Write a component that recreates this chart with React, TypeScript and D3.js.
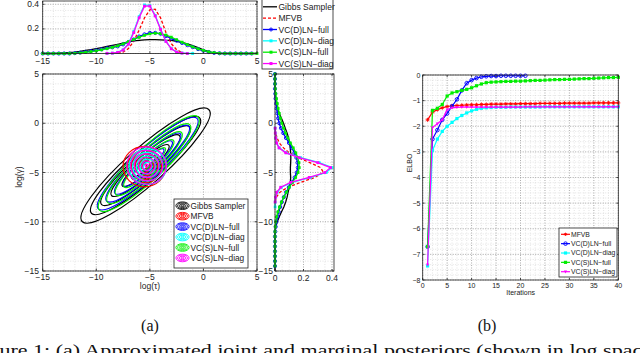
import * as d3 from "d3";

const N = null;

// sample points of the marginal densities (log scale)
const logGrid = d3.range(-15, 5.001, 0.5);

// marginal of log(tau), one value per logGrid point
const tauGibbs = [0, 0, 0, 0.002, 0.005, 0.008, 0.012, 0.018, 0.025, 0.032, 0.04, 0.048, 0.057, 0.066, 0.075, 0.085, 0.094, 0.102, 0.107, 0.11, 0.112, 0.112, 0.111, 0.108, 0.106, 0.099, 0.09, 0.079, 0.065, 0.048, 0.03, 0.015, 0.004, 0, 0, 0, 0, 0, 0, 0, 0];
const tauMfvb = [N, N, N, N, N, N, N, N, N, N, N, N, N, N, 0.002, 0.012, 0.04, 0.1, 0.19, 0.29, 0.355, 0.36, 0.29, 0.17, 0.08, 0.03, 0.008, N, N, N, N, N, N, N, N, N, N, N, N, N, N];
const tauDFull = [0, 0, 0, 0, 0, 0, 0.003, 0.008, 0.013, 0.019, 0.026, 0.034, 0.043, 0.05, 0.058, 0.074, 0.092, 0.114, 0.138, 0.156, 0.168, 0.168, 0.16, 0.142, 0.122, 0.104, 0.086, 0.068, 0.052, 0.036, 0.022, 0.012, 0.005, 0.002, 0, 0, 0, 0, 0, 0, N];
const tauDDiag = [N, N, N, N, N, N, N, N, N, N, N, N, 0.001, 0.003, 0.01, 0.03, 0.08, 0.18, 0.3, 0.395, 0.39, 0.31, 0.2, 0.1, 0.04, 0.012, 0.004, 0.001, 0, N, N, N, N, N, N, N, N, N, N, N, N];
const tauSFull = [0, 0, 0, 0, 0, 0, 0.002, 0.005, 0.01, 0.016, 0.022, 0.03, 0.04, 0.05, 0.062, 0.078, 0.096, 0.114, 0.132, 0.148, 0.16, 0.165, 0.162, 0.15, 0.133, 0.112, 0.092, 0.072, 0.054, 0.038, 0.025, 0.014, 0.007, 0.002, 0, 0, 0, 0, 0, 0, 0];
const tauSDiag = [N, N, N, N, N, N, N, N, N, N, N, N, 0.001, 0.003, 0.009, 0.028, 0.075, 0.17, 0.29, 0.385, 0.385, 0.305, 0.195, 0.098, 0.038, 0.011, 0.003, 0, N, N, N, N, N, N, N, N, N, N, N, N, N];

// marginal of log(gamma)
const gamGibbs = [0, 0, 0, 0, 0, 0, 0, 0, 0, 0.006, 0.016, 0.03, 0.045, 0.062, 0.075, 0.085, 0.092, 0.1, 0.108, 0.11, 0.108, 0.108, 0.11, 0.111, 0.11, 0.107, 0.102, 0.095, 0.085, 0.072, 0.06, 0.045, 0.03, 0.018, 0.008, 0.002, 0, 0, 0, 0, 0];
const gamMfvb = [N, N, N, N, N, N, N, N, N, N, N, N, N, N, 0.002, 0.01, 0.035, 0.09, 0.18, 0.28, 0.34, 0.32, 0.245, 0.165, 0.1, 0.06, 0.03, 0.015, 0.005, 0.001, N, N, N, N, N, N, N, N, N, N, N];
const gamDFull = [N, 0, 0, 0, 0, 0, 0, 0, 0.002, 0.005, 0.01, 0.017, 0.026, 0.036, 0.048, 0.062, 0.078, 0.097, 0.118, 0.138, 0.152, 0.16, 0.158, 0.15, 0.136, 0.118, 0.098, 0.077, 0.058, 0.042, 0.03, 0.022, 0.017, 0.012, 0.008, 0.004, 0.002, 0, 0, 0, 0];
const gamDDiag = [N, N, N, N, N, N, N, N, N, N, N, N, N, 0.001, 0.002, 0.005, 0.015, 0.045, 0.12, 0.25, 0.36, 0.4, 0.31, 0.18, 0.08, 0.03, 0.012, 0.006, 0.003, 0.001, N, N, N, N, N, N, N, N, N, N, N];
const gamSFull = [N, 0, 0, 0, 0, 0, 0, 0, 0, 0.002, 0.005, 0.011, 0.02, 0.032, 0.046, 0.062, 0.08, 0.1, 0.122, 0.145, 0.162, 0.17, 0.168, 0.16, 0.146, 0.128, 0.108, 0.09, 0.074, 0.06, 0.048, 0.038, 0.03, 0.022, 0.016, 0.01, 0.005, 0.002, 0, 0, 0];
const gamSDiag = [N, N, N, N, N, N, N, N, N, N, N, N, N, N, 0.001, 0.004, 0.012, 0.04, 0.11, 0.24, 0.35, 0.39, 0.3, 0.17, 0.075, 0.028, 0.011, 0.005, 0.002, 0.001, N, N, N, N, N, N, N, N, N, N, N];

// joint posterior contours: centre, tilt (deg) and ring semi-axes, in log units
const gibbsCenter = [-5.4, -4.3];
const gibbsAngle = 44;
const gibbsRings = [[8.2, 1.8], [7.0, 1.5], [5.7, 1.2], [4.4, 0.95], [3.0, 0.65], [1.6, 0.35]];
const dFullCenter = [-5.2, -4.1];
const dFullAngle = 45;
const dFullRings = [[6.5, 1.4], [5.4, 1.15], [4.3, 0.9], [3.2, 0.68], [2.1, 0.46], [1.0, 0.22]];
const sFullCenter = [-5.1, -4.1];
const sFullAngle = 46;
const sFullRings = [[6.6, 1.5], [5.5, 1.24], [4.4, 0.98], [3.3, 0.74], [2.2, 0.5], [1.1, 0.25]];
const mfvbCenter = [-5.5, -4.4];
const mfvbRings = [[2.0, 2.05], [1.6, 1.65], [1.25, 1.3], [0.9, 0.95], [0.55, 0.6], [0.22, 0.25]];
const dDiagCenter = [-5.2, -4.4];
const dDiagRings = [[1.75, 1.8], [1.4, 1.45], [1.05, 1.1], [0.72, 0.75], [0.4, 0.42]];
const sDiagCenter = [-5.3, -4.3];
const sDiagRings = [[1.85, 1.9], [1.5, 1.55], [1.15, 1.2], [0.8, 0.85], [0.45, 0.48], [0.15, 0.15]];

// ELBO per iteration (starting at iteration 1)
const elboMfvb = [-1.75, -1.45, -1.35, -1.28, -1.23, -1.2, -1.19, -1.18, -1.17, -1.16, -1.16, -1.15, -1.15, -1.14, -1.14, -1.14, -1.13, -1.13, -1.13, -1.12, -1.12, -1.12, -1.12, -1.11, -1.11, -1.11, -1.11, -1.11, -1.1, -1.1, -1.1, -1.1, -1.1, -1.1, -1.09, -1.09, -1.09, -1.09, -1.09, -1.09];
const elboDFull = [-6.7, -2.5, -2.15, -1.75, -1.5, -1.22, -0.95, -0.6, -0.32, -0.2, -0.12, -0.07, -0.05, -0.04, -0.04, -0.03, -0.03, -0.03, -0.03, -0.03, -0.03];
const elboDDiag = [-7.45, -2.95, -2.5, -2.2, -2.0, -1.85, -1.7, -1.58, -1.48, -1.4, -1.34, -1.3, -1.28, -1.27, -1.26, -1.26, -1.26, -1.25, -1.25, -1.25, -1.25, -1.25, -1.25, -1.25, -1.24, -1.24, -1.24, -1.24, -1.24, -1.24, -1.24, -1.24, -1.24, -1.24, -1.24, -1.24, -1.24, -1.24, -1.24, -1.24];
const elboSFull = [-6.7, -1.38, -1.3, -1.15, -0.82, -0.7, -0.65, -0.6, -0.56, -0.5, -0.42, -0.35, -0.3, -0.28, -0.27, -0.26, -0.25, -0.25, -0.24, -0.24, -0.23, -0.22, -0.21, -0.21, -0.2, -0.19, -0.18, -0.18, -0.17, -0.17, -0.16, -0.15, -0.14, -0.14, -0.13, -0.12, -0.11, -0.1, -0.1, -0.09];
const elboSDiag = [-7.4, -2.05, -1.9, -1.75, -1.35, -1.28, -1.26, -1.25, -1.25, -1.25, -1.25, -1.25, -1.25, -1.25, -1.25, -1.25, -1.25, -1.25, -1.25, -1.25, -1.24, -1.24, -1.24, -1.24, -1.24, -1.24, -1.24, -1.24, -1.24, -1.24, -1.24, -1.24, -1.24, -1.24, -1.24, -1.24, -1.24, -1.24, -1.24, -1.24];

const methodNames = ["Gibbs Sampler", "MFVB", "VC(D)LN\u2212full", "VC(D)LN\u2212diag", "VC(S)LN\u2212full", "VC(S)LN\u2212diag"];
const logTicks = [-15, -10, -5, 0, 5];
const densTicks = [0, 0.2, 0.4];
const elboXTicks = [0, 5, 10, 15, 20, 25, 30, 35, 40];
const elboYTicks = [-8, -7, -6, -5, -4, -3, -2, -1, 0];

const BLACK = "#000000";
const RED = "#ff0000";
const BLUE = "#0000ff";
const CYAN = "#00ffff";
const GREEN = "#00ee00";
const MAGENTA = "#ff00ff";
const FONT = "'Liberation Sans', Arial, Helvetica, sans-serif";

// scales
const xMain = d3.scaleLinear().domain([-15, 5]).range([42.7, 257]);
const yMain = d3.scaleLinear().domain([-15, 5]).range([271, 74]);
const yTop = d3.scaleLinear().domain([0, 0.4]).range([53.5, 4.3]);
const xRight = d3.scaleLinear().domain([0, 0.4]).range([275, 332]);
const xElbo = d3.scaleLinear().domain([0, 40]).range([422.7, 618.3]);
const yElbo = d3.scaleLinear().domain([-8, 0]).range([280, 75]);

const boxTop = { x0: 42.7, x1: 257, y0: 1, y1: 53.5 };
const boxMain = { x0: 42.7, x1: 257, y0: 74, y1: 271 };
const boxRight = { x0: 275, x1: 334, y0: 74, y1: 271 };
const boxElbo = { x0: 422.7, x1: 618.3, y0: 75, y1: 280 };

const fmt = (v) => (v < 0 ? "\u2212" + Math.abs(+v.toFixed(2)) : String(+v.toFixed(2)));

function Grid({ box, xs, ys, xMinor, yMinor, xMajor, yMajor }) {
  return (
    <g>
      {xMinor.map((v, i) => (
        <line key={"xm" + i} x1={xs(v)} x2={xs(v)} y1={box.y0} y2={box.y1} stroke="#d2d2d2" strokeWidth={0.6} strokeDasharray="1,1.5" />
      ))}
      {yMinor.map((v, i) => (
        <line key={"ym" + i} x1={box.x0} x2={box.x1} y1={ys(v)} y2={ys(v)} stroke="#d2d2d2" strokeWidth={0.6} strokeDasharray="1,1.5" />
      ))}
      {xMajor.map((v, i) => (
        <line key={"xM" + i} x1={xs(v)} x2={xs(v)} y1={box.y0} y2={box.y1} stroke="#8c8c8c" strokeWidth={0.6} strokeDasharray="1,1.5" />
      ))}
      {yMajor.map((v, i) => (
        <line key={"yM" + i} x1={box.x0} x2={box.x1} y1={ys(v)} y2={ys(v)} stroke="#8c8c8c" strokeWidth={0.6} strokeDasharray="1,1.5" />
      ))}
    </g>
  );
}

function Box({ box, xs, ys, xTicks, yTicks, t = 2.5 }) {
  return (
    <g stroke="#222" strokeWidth={0.8} fill="none">
      <rect x={box.x0} y={box.y0} width={box.x1 - box.x0} height={box.y1 - box.y0} />
      {xTicks.map((v, i) => (
        <path key={"x" + i} d={`M${xs(v)},${box.y1}v${-t}M${xs(v)},${box.y0}v${t}`} />
      ))}
      {yTicks.map((v, i) => (
        <path key={"y" + i} d={`M${box.x0},${ys(v)}h${t}M${box.x1},${ys(v)}h${-t}`} />
      ))}
    </g>
  );
}

function Marker({ kind, cx, cy, color, s }) {
  if (kind === "o") return <circle cx={cx} cy={cy} r={s / 2} fill="none" stroke={color} strokeWidth={0.9} />;
  if (kind === "s") return <rect x={cx - s / 2} y={cy - s / 2} width={s} height={s} fill={color} />;
  if (kind === "v") return <path d={`M${cx - s / 2},${cy - s * 0.35}L${cx + s / 2},${cy - s * 0.35}L${cx},${cy + s * 0.55}Z`} fill={color} />;
  if (kind === "+") return <path d={`M${cx - s / 2},${cy}H${cx + s / 2}M${cx},${cy - s / 2}V${cy + s / 2}M${cx - s / 3},${cy - s / 3}L${cx + s / 3},${cy + s / 3}M${cx - s / 3},${cy + s / 3}L${cx + s / 3},${cy - s / 3}`} stroke={color} strokeWidth={0.9} fill="none" />;
  return null;
}

const pairs = (vals) => logGrid.map((g, i) => [g, vals[i]]).filter((d) => d[1] != null);

const tauSeries = [
  { vals: tauGibbs, color: BLACK, dash: null, marker: null },
  { vals: tauMfvb, color: RED, dash: "3,2", marker: null },
  { vals: tauDFull, color: BLUE, dash: null, marker: "o" },
  { vals: tauDDiag, color: CYAN, dash: null, marker: "s" },
  { vals: tauSFull, color: GREEN, dash: null, marker: "s" },
  { vals: tauSDiag, color: MAGENTA, dash: null, marker: "s" },
];
const gamSeries = [
  { vals: gamGibbs, color: BLACK, dash: null, marker: null },
  { vals: gamMfvb, color: RED, dash: "3,2", marker: null },
  { vals: gamDFull, color: BLUE, dash: null, marker: "o" },
  { vals: gamDDiag, color: CYAN, dash: null, marker: "s" },
  { vals: gamSFull, color: GREEN, dash: null, marker: "s" },
  { vals: gamSDiag, color: MAGENTA, dash: null, marker: "s" },
];
const elboSeries = [
  { vals: elboMfvb, color: RED, marker: "+" },
  { vals: elboDFull, color: BLUE, marker: "o" },
  { vals: elboDDiag, color: CYAN, marker: "s" },
  { vals: elboSFull, color: GREEN, marker: "s" },
  { vals: elboSDiag, color: MAGENTA, marker: "v" },
];
const contourSets = [
  { color: BLACK, c: gibbsCenter, a: gibbsAngle, rings: gibbsRings },
  { color: BLUE, c: dFullCenter, a: dFullAngle, rings: dFullRings },
  { color: GREEN, c: sFullCenter, a: sFullAngle, rings: sFullRings },
  { color: RED, c: mfvbCenter, a: 0, rings: mfvbRings },
  { color: CYAN, c: dDiagCenter, a: 0, rings: dDiagRings },
  { color: MAGENTA, c: sDiagCenter, a: 0, rings: sDiagRings },
];
const legendColors = [BLACK, RED, BLUE, CYAN, GREEN, MAGENTA];

export default function App() {
  const line = d3.line();
  const kx = xMain(1) - xMain(0);
  const ky = yMain(0) - yMain(1);
  const minorLog = d3.range(-15, 5.01, 1);
  const minorDens = d3.range(0, 0.401, 0.05);

  return (
    <svg width={640} height={353} style={{ position: "absolute", left: 0, top: 0, background: "#fff" }} fontFamily={FONT}>
      <rect width={640} height={353} fill="#fff" />

      {/* ---- top marginal: log(tau) ---- */}
      <Grid box={boxTop} xs={xMain} ys={yTop} xMinor={minorLog} yMinor={minorDens} xMajor={logTicks} yMajor={densTicks} />
      <g>
        {tauSeries.map((s, i) => {
          const pts = pairs(s.vals).map((d) => [xMain(d[0]), yTop(d[1])]);
          return (
            <g key={i}>
              <path d={line(pts)} fill="none" stroke={s.color} strokeWidth={1.3} strokeDasharray={s.dash || undefined} />
              {s.marker && pts.map((p, j) => <Marker key={j} kind={s.marker} cx={p[0]} cy={p[1]} color={s.color} s={s.marker === "o" ? 3.2 : 2.8} />)}
            </g>
          );
        })}
      </g>
      <Box box={boxTop} xs={xMain} ys={yTop} xTicks={logTicks} yTicks={densTicks} t={2} />
      <g fontSize={8.5} fill="#222">
        {logTicks.map((v, i) => (
          <text key={i} x={xMain(v)} y={63.5} textAnchor="middle">{fmt(v)}</text>
        ))}
        {densTicks.map((v, i) => (
          <text key={i} x={39} y={yTop(v) + 2.5} textAnchor="end">{fmt(v)}</text>
        ))}
      </g>

      {/* top legend */}
      <g>
        <rect x={262} y={-1} width={71} height={70} fill="#fff" stroke="#222" strokeWidth={0.8} />
        {methodNames.map((n, i) => {
          const y = 6.8 + i * 11.35;
          const s = tauSeries[i];
          return (
            <g key={i}>
              <line x1={263} x2={277} y1={y} y2={y} stroke={s.color} strokeWidth={1.3} strokeDasharray={s.dash || undefined} />
              {s.marker && <Marker kind={s.marker} cx={271} cy={y} color={s.color} s={3} />}
              <text x={278.5} y={y + 3} fontSize={8.5} fill="#222">{n}</text>
            </g>
          );
        })}
      </g>

      {/* ---- main joint contour plot ---- */}
      <Grid box={boxMain} xs={xMain} ys={yMain} xMinor={minorLog} yMinor={minorLog} xMajor={logTicks} yMajor={logTicks} />
      <g fill="none">
        {contourSets.map((cs, i) => (
          <g key={i} transform={`translate(${xMain(cs.c[0])},${yMain(cs.c[1])}) scale(${kx},${-ky}) rotate(${cs.a})`}>
            {cs.rings.map((r, j) => (
              <ellipse key={j} rx={r[0]} ry={r[1]} stroke={cs.color} strokeWidth={1.2} vectorEffect="non-scaling-stroke" />
            ))}
          </g>
        ))}
      </g>
      <Box box={boxMain} xs={xMain} ys={yMain} xTicks={logTicks} yTicks={logTicks} />
      <g fontSize={8.5} fill="#222">
        {logTicks.map((v, i) => (
          <text key={i} x={xMain(v)} y={280} textAnchor="middle">{fmt(v)}</text>
        ))}
        {logTicks.map((v, i) => (
          <text key={i} x={39} y={yMain(v) + 3} textAnchor="end">{fmt(v)}</text>
        ))}
        <text x={150} y={289} textAnchor="middle">log(τ)</text>
        <text transform={`translate(22,${177}) rotate(-90)`} textAnchor="middle">log(γ)</text>
      </g>
      {/* contour legend */}
      <g>
        <rect x={174} y={199} width={74} height={69} fill="#fff" stroke="#222" strokeWidth={0.8} />
        {methodNames.map((n, i) => {
          const y = 205.7 + i * 10.45;
          return (
            <g key={i}>
              {[[6.6, 3.8], [4.9, 2.8], [3.2, 1.8], [1.5, 0.8]].map((r, j) => (
                <ellipse key={j} cx={182.5} cy={y} rx={r[0]} ry={r[1]} fill="none" stroke={legendColors[i]} strokeWidth={0.9} />
              ))}
              <text x={190.5} y={y + 3} fontSize={8.3} fill="#222">{n}</text>
            </g>
          );
        })}
      </g>

      {/* ---- right marginal: log(gamma) ---- */}
      <Grid box={boxRight} xs={xRight} ys={yMain} xMinor={minorDens} yMinor={minorLog} xMajor={densTicks} yMajor={logTicks} />
      <g>
        {gamSeries.map((s, i) => {
          const pts = pairs(s.vals).map((d) => [xRight(d[1]), yMain(d[0])]);
          return (
            <g key={i}>
              <path d={line(pts)} fill="none" stroke={s.color} strokeWidth={1.3} strokeDasharray={s.dash || undefined} />
              {s.marker && pts.map((p, j) => <Marker key={j} kind={s.marker} cx={p[0]} cy={p[1]} color={s.color} s={s.marker === "o" ? 3.2 : 2.8} />)}
            </g>
          );
        })}
      </g>
      <Box box={boxRight} xs={xRight} ys={yMain} xTicks={densTicks} yTicks={logTicks} t={2} />
      <g fontSize={8.5} fill="#222">
        {densTicks.map((v, i) => (
          <text key={i} x={xRight(v)} y={281} textAnchor="middle">{fmt(v)}</text>
        ))}
        {logTicks.map((v, i) => (
          <text key={i} x={273} y={yMain(v) + 3} textAnchor="end">{fmt(v)}</text>
        ))}
      </g>

      {/* ---- ELBO ---- */}
      <Grid box={boxElbo} xs={xElbo} ys={yElbo} xMinor={d3.range(0, 40.01, 1)} yMinor={d3.range(-8, 0.001, 0.2)} xMajor={elboXTicks} yMajor={elboYTicks} />
      <g>
        {elboSeries.map((s, i) => {
          const pts = s.vals.map((v, j) => [xElbo(j + 1), yElbo(v)]);
          return (
            <g key={i}>
              <path d={line(pts)} fill="none" stroke={s.color} strokeWidth={1.2} />
              {pts.map((p, j) => <Marker key={j} kind={s.marker} cx={p[0]} cy={p[1]} color={s.color} s={s.marker === "o" ? 3.6 : s.marker === "+" ? 4 : 3.2} />)}
            </g>
          );
        })}
      </g>
      <Box box={boxElbo} xs={xElbo} ys={yElbo} xTicks={elboXTicks} yTicks={elboYTicks} t={2} />
      <g fontSize={7} fill="#222">
        {elboXTicks.map((v, i) => (
          <text key={i} x={xElbo(v)} y={287.5} textAnchor="middle">{fmt(v)}</text>
        ))}
        {elboYTicks.map((v, i) => (
          <text key={i} x={420.5} y={yElbo(v) + 2.5} textAnchor="end">{fmt(v)}</text>
        ))}
        <text x={520.7} y={295} textAnchor="middle">Iterations</text>
        <text transform={`translate(412,${163}) rotate(-90)`} textAnchor="middle">ELBO</text>
      </g>
      <g>
        <rect x={559} y={228} width={58} height={49} fill="#fff" stroke="#222" strokeWidth={0.8} />
        {methodNames.slice(1).map((n, i) => {
          const y = 234.3 + i * 9.35;
          const s = elboSeries[i];
          return (
            <g key={i}>
              <line x1={561} x2={570} y1={y} y2={y} stroke={s.color} strokeWidth={1.2} />
              <Marker kind={s.marker} cx={565.5} cy={y} color={s.color} s={s.marker === "o" ? 3.6 : 3.2} />
              <text x={571} y={y + 2.4} fontSize={6.8} fill="#222">{n}</text>
            </g>
          );
        })}
      </g>

      {/* ---- captions ---- */}
      <g fontFamily="'Liberation Serif', 'DejaVu Serif', serif" fill="#111">
        <text x={150} y={331} fontSize={16} textAnchor="middle">(a)</text>
        <text x={487} y={331} fontSize={16} textAnchor="middle">(b)</text>
        <text x={-30} y={356} fontSize={16} textLength={682} lengthAdjust="spacingAndGlyphs">Figure 1: (a) Approximated joint and marginal posteriors (shown in log space</text>
      </g>
    </svg>
  );
}
